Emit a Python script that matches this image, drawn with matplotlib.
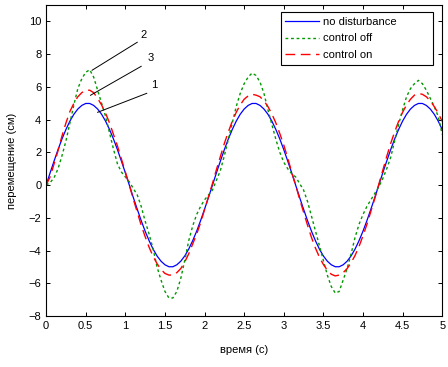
import numpy as np
import matplotlib
matplotlib.use('Agg')
import matplotlib.pyplot as plt

plt.rcParams['font.family'] = ['Liberation Sans', 'DejaVu Sans']
plt.rcParams['font.size'] = 8

# время, шаг 0.05 c
t = np.arange(0, 101) * 0.05

no_disturbance = [
    0.0, 0.75, 1.47, 2.17, 2.82, 3.40, 3.91, 4.33, 4.65, 4.87, 4.99,
    4.99, 4.87, 4.65, 4.33, 3.91, 3.40, 2.82, 2.17, 1.47, 0.75,
    0.0, -0.75, -1.47, -2.17, -2.82, -3.40, -3.91, -4.33, -4.65, -4.87, -4.99,
    -4.99, -4.87, -4.65, -4.33, -3.91, -3.40, -2.82, -2.17, -1.47, -0.75,
    0.0, 0.75, 1.47, 2.17, 2.82, 3.40, 3.91, 4.33, 4.65, 4.87, 4.99,
    4.99, 4.87, 4.65, 4.33, 3.91, 3.40, 2.82, 2.17, 1.47, 0.75,
    0.0, -0.75, -1.47, -2.17, -2.82, -3.40, -3.91, -4.33, -4.65, -4.87, -4.99,
    -4.99, -4.87, -4.65, -4.33, -3.91, -3.40, -2.82, -2.17, -1.47, -0.75,
    0.0, 0.75, 1.47, 2.17, 2.82, 3.40, 3.91, 4.33, 4.65, 4.87, 4.99,
    4.99, 4.87, 4.65, 4.33, 3.91, 3.40,
]

control_off = [
    0.0, 0.15, 0.45, 1.0, 1.8, 2.7, 3.8, 4.9, 5.9, 6.5, 6.9,
    7.05, 6.6, 5.8, 5.0, 4.2, 3.2, 2.2, 1.3, 0.8, 0.5,
    0.2, -0.2, -0.6, -1.3, -2.2, -3.0, -3.9, -5.0, -5.8, -6.5, -6.9,
    -6.9, -6.5, -5.7, -4.6, -3.4, -2.5, -1.8, -1.3, -0.9, -0.6,
    -0.3, 0.3, 0.9, 1.8, 2.8, 3.8, 4.8, 5.6, 6.2, 6.6, 6.85,
    6.7, 6.3, 5.6, 4.6, 3.7, 2.8, 2.0, 1.4, 1.0, 0.7,
    0.5, 0.1, -0.3, -1.0, -1.9, -2.8, -3.7, -4.6, -5.5, -6.2, -6.6,
    -6.5, -5.8, -5.1, -4.2, -3.2, -2.4, -1.8, -1.3, -0.9, -0.5,
    -0.1, 0.4, 1.0, 1.7, 2.7, 3.7, 4.6, 5.4, 5.9, 6.2, 6.4,
    6.2, 5.8, 5.3, 4.8, 4.2, 3.1,
]

control_on = [
    0.0, 0.5, 1.3, 2.1, 3.0, 3.8, 4.5, 5.0, 5.4, 5.65, 5.8,
    5.8, 5.65, 5.3, 4.9, 4.4, 3.8, 3.1, 2.4, 1.6, 0.8,
    0.0, -0.85, -1.65, -2.45, -3.15, -3.8, -4.35, -4.8, -5.15, -5.4, -5.5,
    -5.5, -5.35, -5.1, -4.7, -4.2, -3.6, -3.0, -2.3, -1.5, -0.7,
    0.1, 0.95, 1.75, 2.55, 3.25, 3.9, 4.45, 4.9, 5.25, 5.45, 5.55,
    5.5, 5.4, 5.15, 4.8, 4.35, 3.8, 3.15, 2.45, 1.65, 0.8,
    0.0, -0.85, -1.65, -2.45, -3.2, -3.85, -4.4, -4.85, -5.2, -5.45, -5.55,
    -5.5, -5.35, -5.1, -4.75, -4.3, -3.75, -3.1, -2.4, -1.6, -0.8,
    0.05, 0.9, 1.75, 2.55, 3.25, 3.9, 4.45, 4.9, 5.25, 5.5, 5.6,
    5.55, 5.4, 5.15, 4.8, 4.4, 3.9,
]

labels = ['no disturbance', 'control off', 'control on']

# номера кривых: (текст, позиция текста, начало линии, конец линии)
marks = [
    ('2', (1.19, 8.86), (1.15, 8.73), (0.58, 7.02)),
    ('3', (1.28, 7.45), (1.20, 7.26), (0.56, 5.49)),
    ('1', (1.32, 5.80), (1.27, 5.61), (0.65, 4.45)),
]

fig = plt.figure(figsize=(4.48, 3.67), dpi=100)
ax = fig.add_axes([0.103, 0.139, 0.884, 0.847])

ax.plot(t, no_disturbance, color='blue', lw=0.9, label=labels[0])
ax.plot(t, control_off, color='#009900', lw=1.0, ls=(0, (2, 2)), label=labels[1])
ax.plot(t, control_on, color='red', lw=1.0, ls=(0, (7, 4)), label=labels[2])

for txt, pos, p1, p2 in marks:
    ax.plot([p1[0], p2[0]], [p1[1], p2[1]], color='black', lw=0.7)
    ax.text(pos[0], pos[1], txt, fontsize=8, va='bottom', ha='left')

ax.set_xlim(0, 5)
ax.set_ylim(-8, 11)
ax.set_xticks(np.arange(0, 5.01, 0.5))
ax.set_xticklabels(['0', '0.5', '1', '1.5', '2', '2.5', '3', '3.5', '4', '4.5', '5'])
ax.set_yticks(np.arange(-8, 11, 2))
ax.tick_params(direction='in', top=True, right=True, length=3, width=0.7, labelsize=8)
for s in ax.spines.values():
    s.set_linewidth(0.8)

ax.set_xlabel('время (с)', fontsize=8, labelpad=10)
ax.set_ylabel('перемещение (см)', fontsize=8, labelpad=8)

leg = ax.legend(loc='upper left', bbox_to_anchor=(0.593, 0.804, 0.384, 0.173),
                mode='expand', borderaxespad=0, fontsize=8, fancybox=False,
                edgecolor='black', handlelength=3, handletextpad=0.4,
                labelspacing=0.6, framealpha=1)
leg.get_frame().set_linewidth(0.8)

fig.savefig('out.png', dpi=100)
